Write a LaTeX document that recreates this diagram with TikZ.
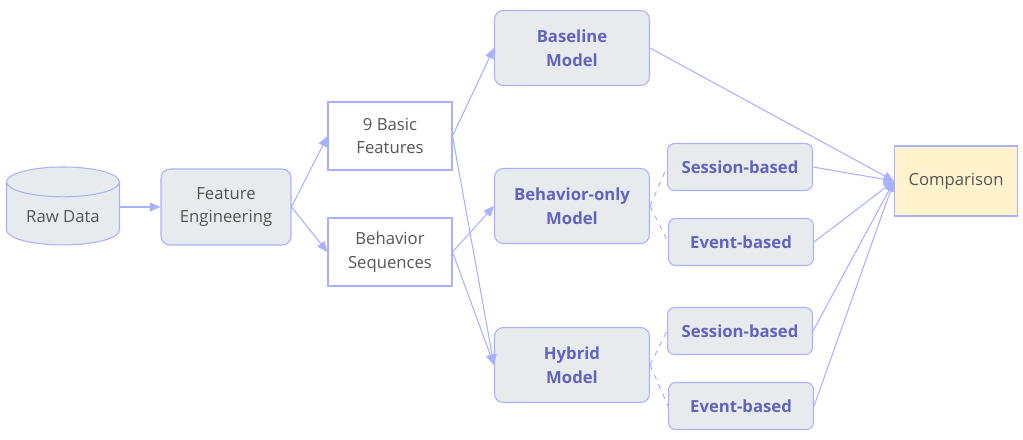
\documentclass[tikz,border=0pt]{standalone}
\usepackage{fontspec}
\setmainfont{Open Sans}
\usepackage{tikz}
\usetikzlibrary{arrows.meta,shapes.geometric}

\definecolor{edgeblue}{HTML}{A9B1FF}
\definecolor{boxgray}{HTML}{E8EBED}
\definecolor{labelpurple}{HTML}{6262BF}
\definecolor{textgray}{HTML}{555555}
\definecolor{cmpyellow}{HTML}{FFF2CC}

\tikzset{
  box/.style={draw=edgeblue,line width=0.6pt,fill=boxgray,rounded corners=5pt,align=center,
    text=textgray,font=\fontsize{9.5}{13.5}\selectfont},
  plainbox/.style={box,fill=white,rounded corners=0pt,minimum width=2.48cm,minimum height=1.36cm},
  modelbox/.style={box,text=labelpurple,font=\fontsize{9.5}{13.5}\selectfont\bfseries,
    minimum width=3.1cm,minimum height=1.5cm},
  subbox/.style={box,rounded corners=4pt,text=labelpurple,font=\fontsize{9.5}{13.5}\selectfont\bfseries,
    minimum width=2.9cm,minimum height=0.94cm},
  link/.style={->,color=edgeblue,line width=0.6pt},
  variant/.style={color=edgeblue,line width=0.6pt,dashed}
}

\begin{document}
\begin{tikzpicture}[x=0.02cm,y=-0.02cm,>={Triangle[length=6pt,width=5pt]}]
  \useasboundingbox (0,0) rectangle (1023,439);
  % inputs
  \node[box,cylinder,shape border rotate=90,aspect=0.35,rounded corners=0pt,
        minimum width=2.26cm,minimum height=1.56cm] (raw) at (63,217) {\raisebox{-2pt}{Raw Data}};
  \node[box,minimum width=2.6cm,minimum height=1.52cm] (fe) at (226,207) {Feature\\Engineering};
  \node[plainbox] (basic) at (390,136) {9 Basic\\Features};
  \node[plainbox] (seq) at (390,252) {Behavior\\Sequences};
  % models
  \node[modelbox] (base) at (572,48) {Baseline\\Model};
  \node[modelbox] (beh) at (572,206) {Behavior-only\\Model};
  \node[modelbox] (hyb) at (572,365) {Hybrid\\Model};
  % variants
  \node[subbox] (bsess) at (740,167) {Session-based};
  \node[subbox] (bevt) at (741,242) {Event-based};
  \node[subbox] (hsess) at (740,331) {Session-based};
  \node[subbox] (hevt) at (741,406) {Event-based};
  \node[box,rounded corners=0pt,fill=cmpyellow,minimum width=2.46cm,minimum height=1.4cm] (cmp) at (956,181) {Comparison};

  \draw[link] (fe.west -| raw.east) -- (fe.west);
  \draw[link] (fe.east) -- (basic.west);
  \draw[link] (fe.east) -- (seq.west);
  \draw[link] (basic.east) -- (base.west);
  \draw[link] (basic.east) -- (hyb.west);
  \draw[link] (seq.east) -- (beh.west);
  \draw[link] (seq.east) -- (hyb.west);
  \draw[link] (base.east) -- (cmp.west);
  \draw[link] (bsess.east) -- (cmp.west);
  \draw[link] (bevt.east) -- (cmp.west);
  \draw[link] (hsess.east) -- (cmp.west);
  \draw[link] (hevt.east) -- (cmp.west);
  \draw[variant] (beh.east) -- (bsess.west);
  \draw[variant] (beh.east) -- (bevt.west);
  \draw[variant] (hyb.east) -- (hsess.west);
  \draw[variant] (hyb.east) -- (hevt.west);
\end{tikzpicture}
\end{document}
